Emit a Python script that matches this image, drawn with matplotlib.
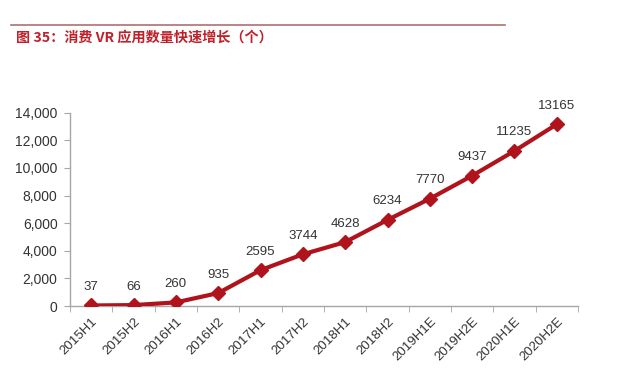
import numpy as np
import matplotlib.pyplot as plt
from matplotlib.lines import Line2D

plt.rcParams['font.family'] = ['Liberation Sans', 'Noto Sans CJK SC', 'DejaVu Sans']

periods = ['2015H1', '2015H2', '2016H1', '2016H2', '2017H1', '2017H2',
           '2018H1', '2018H2', '2019H1E', '2019H2E', '2020H1E', '2020H2E']
apps = [37, 66, 260, 935, 2595, 3744, 4628, 6234, 7770, 9437, 11235, 13165]
yticks = [0, 2000, 4000, 6000, 8000, 10000, 12000, 14000]

red = '#b0131c'
grey = '#a6a6a6'

fig = plt.figure(figsize=(6.18, 3.71), dpi=100)
ax = fig.add_axes([70/618, 1 - 306/371, (578-70)/618, (306-112.7)/371])

x = np.arange(len(periods))
ax.plot(x, apps, color=red, linewidth=3, marker='D', markersize=7.5, zorder=3)
for xi, v in zip(x, apps):
    ax.annotate(str(v), (xi, v), xytext=(0, 9), textcoords='offset points',
                ha='center', va='bottom', fontsize=9.5, color='#333333')

ax.set_xlim(-0.5, len(periods) - 0.5)
ax.set_ylim(0, 14000)
ax.set_yticks(yticks)
ax.set_yticklabels([f'{t:,}' for t in yticks], fontsize=10, color='#333333')
ax.set_xticks(x)
ax.set_xticklabels(periods, rotation=45, ha='right', rotation_mode='anchor',
                   fontsize=9.5, color='#333333')
ax.set_xticks(np.arange(-0.5, len(periods)), minor=True)
ax.tick_params(axis='x', which='major', length=0, pad=7)
ax.tick_params(axis='x', which='minor', length=4, color=grey, direction='out')
ax.tick_params(axis='y', length=4, color=grey, direction='out', pad=5)
for s in ['top', 'right']:
    ax.spines[s].set_visible(False)
for s in ['left', 'bottom']:
    ax.spines[s].set_color(grey)
    ax.spines[s].set_linewidth(1)

fig.add_artist(Line2D([11/618, 505/618], [1 - 25/371, 1 - 25/371],
                      color='#b07070', linewidth=1.2))
fig.text(16/618, 1 - 38/371, '图 35：消费 VR 应用数量快速增长（个）',
         fontsize=10.2, color='#c0202a', fontweight='bold', va='center',
         family=['Noto Sans CJK SC', 'DejaVu Sans'])

fig.savefig('out.png', dpi=100)
